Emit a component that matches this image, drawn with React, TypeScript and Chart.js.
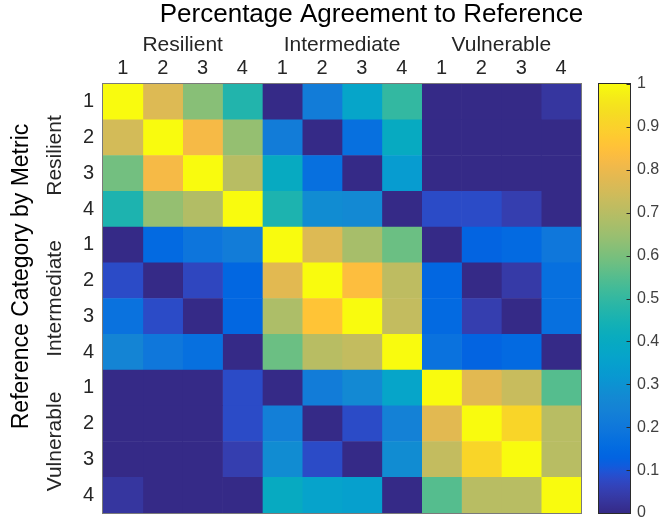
import React, { useEffect, useRef } from 'react';
import { Chart, registerables } from 'chart.js';

Chart.register(...registerables);

// ---------- data ----------
const chartTitle = 'Percentage Agreement to Reference';
const yAxisTitle = 'Reference Category by Metric';
const groupLabels = ['Resilient', 'Intermediate', 'Vulnerable'];
const rowLabels = ['1', '2', '3', '4', '1', '2', '3', '4', '1', '2', '3', '4'];
const colLabels = ['1', '2', '3', '4', '1', '2', '3', '4', '1', '2', '3', '4'];
const colorbarTicks = [0, 0.1, 0.2, 0.3, 0.4, 0.5, 0.6, 0.7, 0.8, 0.9, 1];

// rows: reference category (Resilient 1-4, Intermediate 1-4, Vulnerable 1-4)
const resilient1 = [1.0, 0.77, 0.62, 0.47, 0.0, 0.22, 0.37, 0.5, 0.0, 0.0, 0.0, 0.03];
const resilient2 = [0.75, 1.0, 0.82, 0.64, 0.22, 0.0, 0.17, 0.4, 0.0, 0.0, 0.0, 0.0];
const resilient3 = [0.59, 0.82, 1.0, 0.7, 0.4, 0.17, 0.0, 0.33, 0.0, 0.0, 0.0, 0.0];
const resilient4 = [0.46, 0.64, 0.69, 1.0, 0.46, 0.28, 0.27, 0.0, 0.08, 0.08, 0.05, 0.0];
const intermediate1 = [0.0, 0.15, 0.19, 0.22, 1.0, 0.77, 0.67, 0.58, 0.0, 0.13, 0.15, 0.2];
const intermediate2 = [0.08, 0.0, 0.07, 0.14, 0.78, 1.0, 0.84, 0.71, 0.14, 0.0, 0.04, 0.17];
const intermediate3 = [0.18, 0.08, 0.0, 0.14, 0.68, 0.86, 1.0, 0.72, 0.15, 0.05, 0.0, 0.17];
const intermediate4 = [0.25, 0.2, 0.17, 0.0, 0.58, 0.7, 0.72, 1.0, 0.18, 0.13, 0.15, 0.0];
const vulnerable1 = [0.0, 0.0, 0.0, 0.08, 0.0, 0.22, 0.27, 0.37, 1.0, 0.78, 0.73, 0.55];
const vulnerable2 = [0.0, 0.0, 0.0, 0.08, 0.23, 0.0, 0.08, 0.24, 0.78, 1.0, 0.91, 0.7];
const vulnerable3 = [0.0, 0.0, 0.0, 0.05, 0.28, 0.08, 0.0, 0.28, 0.72, 0.91, 1.0, 0.7];
const vulnerable4 = [0.03, 0.0, 0.0, 0.0, 0.4, 0.36, 0.35, 0.0, 0.55, 0.7, 0.7, 1.0];

const matrix = [
  resilient1, resilient2, resilient3, resilient4,
  intermediate1, intermediate2, intermediate3, intermediate4,
  vulnerable1, vulnerable2, vulnerable3, vulnerable4,
];

// ---------- parula colormap ----------
const PARULA: number[][] = [
  [0.2081, 0.1663, 0.5292], [0.2116, 0.1898, 0.5777], [0.2123, 0.2138, 0.627], [0.2081, 0.2386, 0.6771],
  [0.1959, 0.2645, 0.7279], [0.1707, 0.2919, 0.7792], [0.1253, 0.3242, 0.8303], [0.0591, 0.3598, 0.8683],
  [0.0117, 0.3875, 0.882], [0.006, 0.4086, 0.8828], [0.0165, 0.4266, 0.8786], [0.0329, 0.443, 0.872],
  [0.0498, 0.4586, 0.8641], [0.0629, 0.4737, 0.8554], [0.0723, 0.4887, 0.8467], [0.0779, 0.504, 0.8384],
  [0.0793, 0.52, 0.8312], [0.0749, 0.5375, 0.8263], [0.0641, 0.557, 0.824], [0.0488, 0.5772, 0.8228],
  [0.0343, 0.5966, 0.8199], [0.0265, 0.6137, 0.8135], [0.0239, 0.6287, 0.8038], [0.0231, 0.6418, 0.7913],
  [0.0228, 0.6535, 0.7768], [0.0267, 0.6642, 0.7607], [0.0384, 0.6743, 0.7436], [0.059, 0.6838, 0.7254],
  [0.0843, 0.6928, 0.7062], [0.1133, 0.7015, 0.6859], [0.1453, 0.7098, 0.6646], [0.1801, 0.7177, 0.6424],
  [0.2178, 0.725, 0.6193], [0.2586, 0.7317, 0.5954], [0.3022, 0.7376, 0.5712], [0.3482, 0.7424, 0.5473],
  [0.3953, 0.7459, 0.5244], [0.442, 0.7481, 0.5033], [0.4871, 0.7491, 0.484], [0.53, 0.7491, 0.4661],
  [0.5709, 0.7485, 0.4494], [0.6099, 0.7473, 0.4337], [0.6473, 0.7456, 0.4188], [0.6834, 0.7435, 0.4044],
  [0.7184, 0.7411, 0.3905], [0.7525, 0.7384, 0.3768], [0.7858, 0.7356, 0.3633], [0.8185, 0.7327, 0.3498],
  [0.8507, 0.7299, 0.336], [0.8824, 0.7274, 0.3217], [0.9139, 0.7258, 0.3063], [0.945, 0.7261, 0.2886],
  [0.9739, 0.7314, 0.2666], [0.9938, 0.7455, 0.2403], [0.999, 0.7653, 0.2164], [0.9955, 0.7861, 0.1967],
  [0.988, 0.8066, 0.1794], [0.9789, 0.8271, 0.1633], [0.9697, 0.8481, 0.1475], [0.9626, 0.8705, 0.1309],
  [0.9589, 0.8949, 0.1132], [0.9598, 0.9218, 0.0948], [0.9661, 0.9514, 0.0755], [0.9763, 0.9831, 0.0538],
];

function parula(v: number): string {
  const t = Math.max(0, Math.min(1, v)) * (PARULA.length - 1);
  const i = Math.min(PARULA.length - 2, Math.floor(t));
  const f = t - i;
  const a = PARULA[i];
  const b = PARULA[i + 1];
  const c = [0, 1, 2].map((k) => Math.round((a[k] + (b[k] - a[k]) * f) * 255));
  return `rgb(${c[0]},${c[1]},${c[2]})`;
}

const FONT = "'Liberation Sans', Arial, Helvetica, sans-serif";

const noEdgePadding = (s: any, size: { width?: number; height?: number }) => {
  if (size.width !== undefined) s.width = size.width;
  if (size.height !== undefined) s.height = size.height;
  s.paddingTop = 0;
  s.paddingBottom = 0;
  s.paddingLeft = 0;
  s.paddingRight = 0;
};

const decorPlugin = {
  id: 'heatmapDecor',
  afterDraw(chart: any) {
    const { ctx, chartArea: a, scales } = chart;
    const y = scales.y;
    const cb = scales.cb;
    ctx.save();

    // heatmap frame
    ctx.strokeStyle = '#7a7a7a';
    ctx.lineWidth = 1;
    ctx.strokeRect(Math.round(a.left) - 0.5, Math.round(a.top) - 0.5,
      Math.round(a.right - a.left) + 1, Math.round(a.bottom - a.top) + 1);

    // colorbar
    const x0 = Math.round(a.right) + 17;
    const w = 32;
    const yTop = cb.getPixelForValue(1);
    const yBot = cb.getPixelForValue(0);
    const grad = ctx.createLinearGradient(0, yBot, 0, yTop);
    PARULA.forEach((c, i) => {
      grad.addColorStop(i / (PARULA.length - 1),
        `rgb(${Math.round(c[0] * 255)},${Math.round(c[1] * 255)},${Math.round(c[2] * 255)})`);
    });
    ctx.fillStyle = grad;
    ctx.fillRect(x0, yTop, w, yBot - yTop);
    ctx.strokeStyle = '#2b2b2b';
    ctx.strokeRect(x0 + 0.5, Math.round(yTop) - 0.5, w, Math.round(yBot - yTop) + 1);
    ctx.beginPath();
    colorbarTicks.forEach((v) => {
      const py = Math.round(cb.getPixelForValue(v)) + 0.5;
      ctx.moveTo(x0 + w + 0.5 - 4, py);
      ctx.lineTo(x0 + w + 0.5, py);
    });
    ctx.stroke();

    // main title
    ctx.fillStyle = '#000000';
    ctx.font = `26px ${FONT}`;
    ctx.textAlign = 'center';
    ctx.textBaseline = 'middle';
    ctx.fillText(chartTitle, (a.left + x0 + w) / 2 + 5, 15);

    // left group labels (rotated)
    ctx.fillStyle = '#262626';
    ctx.font = `21px ${FONT}`;
    groupLabels.forEach((lab, g) => {
      const yc = (y.getPixelForTick(g * 4) + y.getPixelForTick(g * 4 + 3)) / 2;
      ctx.save();
      ctx.translate(a.left - 48, yc);
      ctx.rotate(-Math.PI / 2);
      ctx.fillText(lab, 0, 0);
      ctx.restore();
    });

    // y axis title
    ctx.fillStyle = '#000000';
    ctx.font = `23px ${FONT}`;
    ctx.save();
    ctx.translate(a.left - 81, (a.top + a.bottom) / 2 - 22);
    ctx.rotate(-Math.PI / 2);
    ctx.fillText(yAxisTitle, 0, 0);
    ctx.restore();

    ctx.restore();
  },
};

export default function App() {
  const canvasRef = useRef<HTMLCanvasElement | null>(null);

  useEffect(() => {
    const canvas = canvasRef.current;
    if (!canvas) return;

    const datasets = colLabels.map((_, j) => ({
      label: `col${j}`,
      data: matrix.map(() => 1),
      backgroundColor: matrix.map((row) => parula(row[j])),
      borderWidth: 0,
      barPercentage: 1,
      categoryPercentage: 1,
    }));

    const chart = new Chart(canvas, {
      type: 'bar',
      data: { labels: rowLabels, datasets },
      options: {
        responsive: false,
        animation: false,
        indexAxis: 'y',
        layout: { padding: { top: 0, left: 0, right: 0, bottom: 9 } },
        plugins: { legend: { display: false }, tooltip: { enabled: false }, title: { display: false } },
        scales: {
          x: { type: 'linear', stacked: true, min: 0, max: 12, display: false },
          xNum: {
            type: 'category',
            labels: colLabels,
            position: 'top',
            offset: true,
            weight: 0,
            grid: { display: false, drawTicks: false },
            border: { display: false },
            ticks: { color: '#262626', font: { family: FONT, size: 20 }, padding: 4, maxRotation: 0, autoSkip: false },
            afterFit: (s: any) => noEdgePadding(s, { height: 26 }),
          },
          xGroup: {
            type: 'category',
            labels: groupLabels,
            position: 'top',
            offset: true,
            weight: 1,
            grid: { display: false, drawTicks: false },
            border: { display: false },
            ticks: { color: '#262626', font: { family: FONT, size: 21 }, padding: 0, maxRotation: 0, autoSkip: false },
            afterFit: (s: any) => noEdgePadding(s, { height: 58 }),
          },
          y: {
            type: 'category',
            position: 'left',
            stacked: true,
            offset: true,
            grid: { display: false, drawTicks: false },
            border: { display: false },
            ticks: { color: '#262626', font: { family: FONT, size: 20 }, padding: 9, autoSkip: false },
            afterFit: (s: any) => noEdgePadding(s, { width: 103 }),
          },
          cb: {
            type: 'linear',
            position: 'right',
            min: 0,
            max: 1,
            offset: false,
            grid: { display: false, drawTicks: true, tickLength: 53 },
            border: { display: false },
            afterBuildTicks: (s: any) => { s.ticks = colorbarTicks.map((v) => ({ value: v })); },
            ticks: { color: '#404040', font: { family: FONT, size: 16 }, padding: 3, autoSkip: false,
              callback: (v: any) => String(Math.round(Number(v) * 10) / 10) },
            afterFit: (s: any) => noEdgePadding(s, { width: 78 }),
          },
        },
      },
      plugins: [decorPlugin],
    } as any);

    return () => chart.destroy();
  }, []);

  return (
    <div style={{ position: 'absolute', left: 0, top: 0, width: 659, height: 522, background: '#ffffff' }}>
      <canvas ref={canvasRef} width={659} height={522} style={{ display: 'block' }} />
    </div>
  );
}
